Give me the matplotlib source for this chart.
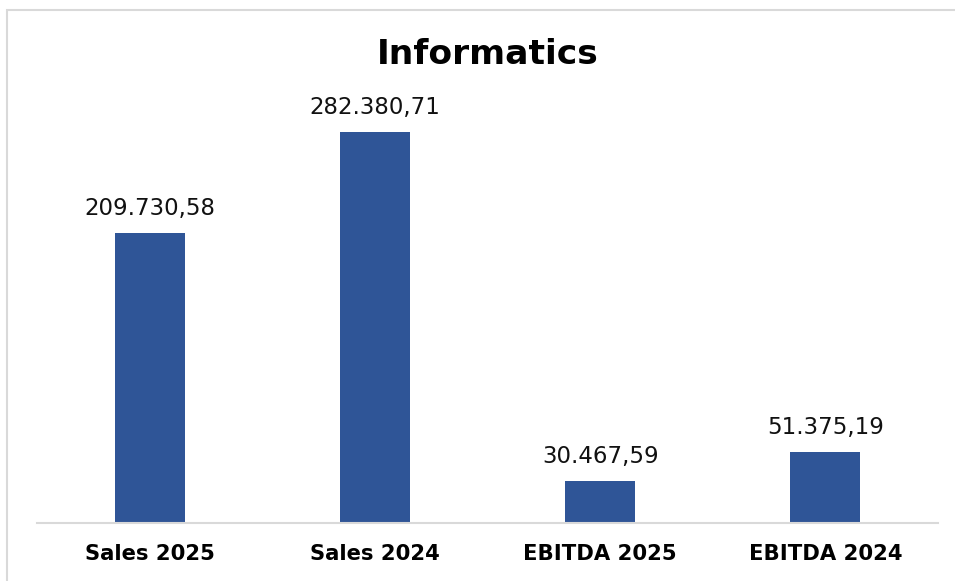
import matplotlib
matplotlib.use("Agg")
import matplotlib.pyplot as plt
from matplotlib.patches import Rectangle

categories = ["Sales 2025", "Sales 2024", "EBITDA 2025", "EBITDA 2024"]
values = [209730.58, 282380.71, 30467.59, 51375.19]
value_labels = ["209.730,58", "282.380,71", "30.467,59", "51.375,19"]

W, H = 955, 581
fig = plt.figure(figsize=(W / 100, H / 100), dpi=100)
plt.rcParams["font.family"] = ["DejaVu Sans"]

# light frame around the chart area
fig.patches.append(Rectangle((7 / W, -0.01), 1.0, 1 - 10 / H + 0.01,
                             transform=fig.transFigure, fill=False,
                             edgecolor="#d9d9d9", linewidth=1.5))

ax = fig.add_axes([37 / W, (H - 523) / H, (938 - 37) / W, (523 - 90) / H])
x = range(len(categories))
bars = ax.bar(x, values, width=0.31, color="#2F5597")

ax.set_xlim(-0.5, len(categories) - 0.5)
ax.set_ylim(0, 312700)

for b, lab in zip(bars, value_labels):
    ax.annotate(lab, (b.get_x() + b.get_width() / 2, b.get_height()),
                xytext=(0, 9), textcoords="offset points",
                ha="center", va="bottom", fontsize=16.5, color="#111111")

ax.set_xticks(list(x))
ax.set_xticklabels(categories, fontsize=15.2, fontweight="bold")
ax.tick_params(axis="x", length=0, pad=15)
ax.set_yticks([])
for s in ["top", "right", "left"]:
    ax.spines[s].set_visible(False)
ax.spines["bottom"].set_color("#d9d9d9")
ax.spines["bottom"].set_linewidth(1.5)

fig.text(488 / W, 1 - 55 / H, "Informatics", ha="center", va="center",
         fontsize=24.8, fontweight="bold")

fig.savefig("out.png", dpi=100)
